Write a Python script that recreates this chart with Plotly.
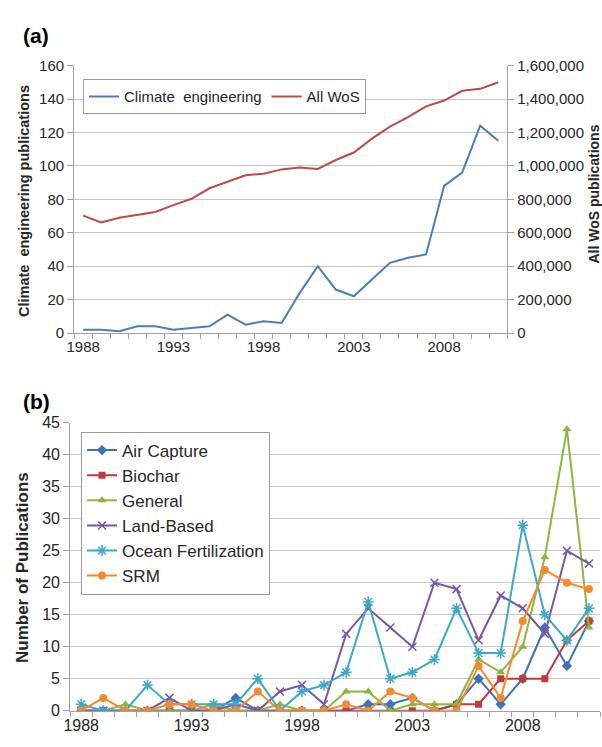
import plotly.graph_objects as go

years = list(range(1988, 2012))

# Panel (a)
climate_eng = [2, 2, 1, 4, 4, 2, 3, 4, 11, 5, 7, 6, 24, 40, 26, 22, 32, 42, 45, 47, 88, 96, 124, 115]
all_wos = [702000, 661000, 690000, 708000, 724000, 765000, 803000, 866000, 907000, 944000,
           953000, 979000, 990000, 982000, 1035000, 1080000, 1163000, 1235000, 1292000,
           1356000, 1391000, 1449000, 1461000, 1500000]

# Panel (b)
air_capture = [0, 0, 0, 0, 0, 0, 0, 2, 0, 0, 0, 0, 0, 1, 1, 2, 0, 1, 5, 1, 5, 13, 7, 14]
biochar = [0, 0, 0, 0, 0, 0, 0, 0, 0, 0, 0, 0, 0, 0, 0, 0, 0, 1, 1, 5, 5, 5, 11, 14]
general = [0, 0, 1, 0, 0, 0, 1, 0, 0, 1, 0, 0, 3, 3, 0, 1, 1, 1, 8, 6, 10, 24, 44, 13]
land_based = [0, 0, 0, 0, 2, 0, 0, 1, 0, 3, 4, 1, 12, 16, 13, 10, 20, 19, 11, 18, 16, 12, 25, 23]
ocean_fert = [1, 0, 0, 4, 1, 1, 1, 1, 5, 0, 3, 4, 6, 17, 5, 6, 8, 16, 9, 9, 29, 15, 11, 16]
srm = [0, 2, 0, 0, 1, 1, 0, 0, 3, 0, 0, 0, 1, 0, 3, 2, 0, 0, 7, 2, 14, 22, 20, 19]

xtick_years = [1988, 1993, 1998, 2003, 2008]

FONT = "Liberation Sans, Arial, sans-serif"
GRID = "#C8C8C8"
AXIS = "#A0A0A0"
TXT = "#262626"

W, H = 602, 747

def px_x(x):
    return x / W

def px_y(y):
    return (H - y) / H

fig = go.Figure()

fig.add_trace(go.Scatter(x=years, y=climate_eng, name="Climate  engineering", mode="lines",
                         line=dict(color="#4A7EBB", width=2), xaxis="x", yaxis="y", legend="legend"))
fig.add_trace(go.Scatter(x=years, y=all_wos, name="All WoS", mode="lines",
                         line=dict(color="#BE4B48", width=2), xaxis="x", yaxis="y2", legend="legend"))

series_b = [
    ("Air Capture", air_capture, "#3F6FBF", "diamond", 8),
    ("Biochar", biochar, "#BE3B38", "square", 7),
    ("General", general, "#8DB53F", "triangle-up", 8),
    ("Land-Based", land_based, "#7A56A6", "x-thin-open", 8),
    ("Ocean Fertilization", ocean_fert, "#3AAAC6", "asterisk-open", 9),
    ("SRM", srm, "#F58A2E", "circle", 8),
]
for name, vals, col, sym, sz in series_b:
    mk = dict(symbol=sym, size=sz, color=col)
    if sym.endswith("open"):
        mk["line"] = dict(color=col, width=1.5)
    fig.add_trace(go.Scatter(x=years, y=vals, name=name, mode="lines+markers",
                             line=dict(color=col, width=2), marker=mk,
                             xaxis="x2", yaxis="y3", legend="legend2"))

common_x = dict(
    range=[1987.5, 2011.5], tickmode="array", tickvals=xtick_years,
    ticktext=[str(v) for v in xtick_years], ticks="", showgrid=False, zeroline=False,
    showline=True, linecolor=AXIS, linewidth=1,
    minor=dict(tickmode="linear", tick0=1987.5, dtick=1, ticks="outside", ticklen=5,
               tickcolor=AXIS, showgrid=False),
)

fig.update_layout(
    width=W, height=H, margin=dict(l=0, r=0, t=0, b=0),
    paper_bgcolor="white", plot_bgcolor="white",
    font=dict(family=FONT, color=TXT),
    xaxis=dict(domain=[px_x(67), px_x(506)], anchor="y", tickfont=dict(size=15), **common_x),
    yaxis=dict(domain=[px_y(332), px_y(58)], range=[0, 160], dtick=20, anchor="x",
               showgrid=True, gridcolor=GRID, zeroline=False, showline=True, linecolor=AXIS,
               ticks="outside", ticklen=6, tickcolor=AXIS, tickfont=dict(size=15)),
    yaxis2=dict(overlaying="y", side="right", anchor="x", range=[0, 1600000], dtick=200000,
                tickformat=",", showgrid=False, zeroline=False, showline=True, linecolor=AXIS,
                ticks="outside", ticklen=6, tickcolor=AXIS, tickfont=dict(size=15)),
    xaxis2=dict(domain=[px_x(63), px_x(600)], anchor="y3", tickfont=dict(size=16), **common_x),
    yaxis3=dict(domain=[px_y(719), px_y(424)], range=[0, 45], dtick=5, anchor="x2",
                showgrid=True, gridcolor=GRID, zeroline=False, showline=True, linecolor=AXIS,
                ticks="outside", ticklen=6, tickcolor=AXIS, tickfont=dict(size=16)),
    legend=dict(x=px_x(76), y=px_y(72), xanchor="left", yanchor="top", orientation="h",
                bordercolor="#9A9A9A", borderwidth=1, bgcolor="white",
                font=dict(size=15, color=TXT)),
    legend2=dict(x=px_x(74), y=px_y(433), xanchor="left", yanchor="top", orientation="v",
                 bordercolor="#9A9A9A", borderwidth=1, bgcolor="white",
                 font=dict(size=17, color=TXT), itemwidth=30),
    showlegend=True,
)

annos = [
    dict(text="<b>(a)</b>", x=px_x(13), y=px_y(27), xanchor="left", yanchor="middle", font=dict(size=21, color="black")),
    dict(text="<b>(b)</b>", x=px_x(13), y=px_y(402), xanchor="left", yanchor="middle", font=dict(size=21, color="black")),
    dict(text="<b>Climate  engineering publications</b>", x=px_x(16), y=px_y(197), textangle=-90,
         xanchor="center", yanchor="middle", font=dict(size=14.5, color=TXT)),
    dict(text="<b>All WoS publications</b>", x=px_x(594), y=px_y(190), textangle=-90,
         xanchor="center", yanchor="middle", font=dict(size=14, color=TXT)),
    dict(text="<b>Number of Publications</b>", x=px_x(14), y=px_y(572), textangle=-90,
         xanchor="center", yanchor="middle", font=dict(size=17, color=TXT)),
]
for a in annos:
    a.update(xref="paper", yref="paper", showarrow=False)
    fig.add_annotation(**a)

fig.write_html("out.html", config={"displayModeBar": False},
               post_script="document.body.style.margin='0';")
